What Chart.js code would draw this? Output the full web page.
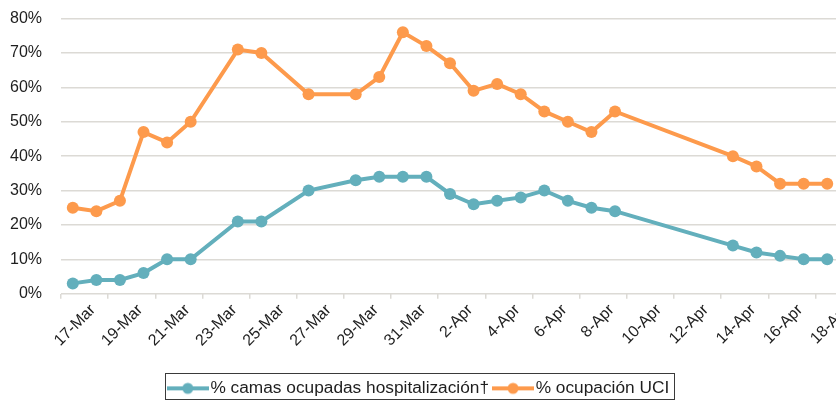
<!DOCTYPE html>
<html>
<head>
<meta charset="utf-8">
<script src="https://cdn.jsdelivr.net/npm/chart.js@4.4.1/dist/chart.umd.min.js"></script>
<style>
  html, body { margin: 0; padding: 0; background: #fff; }
  #wrap { width: 836px; height: 401px; overflow: hidden; }
  #box { width: 845px; height: 420px; margin-top: -10px; }
</style>
</head>
<body>
<div id="wrap"><div id="box"><canvas id="chart"></canvas></div></div>
<script>
const dates = [
  "2020-03-17", "2020-03-18", "2020-03-19", "2020-03-20", "2020-03-21", "2020-03-22",
  "2020-03-24", "2020-03-25", "2020-03-27", "2020-03-29", "2020-03-30", "2020-03-31",
  "2020-04-01", "2020-04-02", "2020-04-03", "2020-04-04", "2020-04-05", "2020-04-06",
  "2020-04-07", "2020-04-08", "2020-04-09", "2020-04-14", "2020-04-15", "2020-04-16",
  "2020-04-17", "2020-04-18",
];
const hospital = [3, 4, 4, 6, 10, 10, 21, 21, 30, 33, 34, 34, 34, 29, 26, 27, 28, 30, 27, 25, 24, 14, 12, 11, 10, 10];
const uci = [25, 24, 27, 47, 44, 50, 71, 70, 58, 58, 63, 76, 72, 67, 59, 61, 58, 53, 50, 47, 53, 40, 37, 32, 32, 32];
const tickLabels = [
  "17-Mar", "19-Mar", "21-Mar", "23-Mar", "25-Mar", "27-Mar", "29-Mar", "31-Mar",
  "2-Apr", "4-Apr", "6-Apr", "8-Apr", "10-Apr", "12-Apr", "14-Apr", "16-Apr", "18-Apr",
];
const seriesNames = ["% camas ocupadas hospitalización†", "% ocupación UCI"];
const colors = ["#63afbc", "#fd9a4c"];

const firstDay = Date.parse(dates[0]);
const dayOf = (d) => (Date.parse(d) - firstDay) / 86400000;
const points = (values) => values.map((v, i) => ({ x: dayOf(dates[i]), y: v }));

// line + marker icon for the legend
function legendIcon(color) {
  const c = document.createElement("canvas");
  c.width = 42; c.height = 14;
  const ctx = c.getContext("2d");
  ctx.strokeStyle = color; ctx.lineWidth = 4;
  ctx.beginPath(); ctx.moveTo(0, 7); ctx.lineTo(42, 7); ctx.stroke();
  ctx.fillStyle = color;
  ctx.beginPath(); ctx.arc(21, 7, 5.5, 0, Math.PI * 2); ctx.fill();
  return c;
}
const icons = colors.map(legendIcon);

const legendFrame = {
  id: "legendFrame",
  afterDraw(chart) {
    const boxes = chart.legend.legendHitBoxes;
    if (!boxes || !boxes.length) return;
    const first = boxes[0], last = boxes[boxes.length - 1];
    const cy = first.top + first.height / 2;
    const left = Math.round(first.left - 9) + 0.5;
    const right = Math.round(last.left + last.width + 5) + 0.5;
    const ctx = chart.ctx;
    ctx.save();
    ctx.strokeStyle = "#3a3a3a";
    ctx.lineWidth = 1;
    ctx.strokeRect(left, Math.round(cy - 15) + 0.5, right - left, 26);
    ctx.restore();
  },
};

Chart.defaults.font.family = "'Liberation Sans', Arial, sans-serif";
Chart.defaults.color = "#1e1e1e";

const ds = (i, values) => ({
  label: seriesNames[i],
  data: points(values),
  borderColor: colors[i],
  backgroundColor: colors[i],
  pointBackgroundColor: colors[i],
  pointBorderWidth: 0,
  pointRadius: 6,
  borderWidth: 4,
  tension: 0,
});

new Chart(document.getElementById("chart"), {
  type: "line",
  data: { datasets: [ds(0, hospital), ds(1, uci)] },
  plugins: [legendFrame],
  options: {
    responsive: true,
    maintainAspectRatio: false,
    animation: false,
    layout: { padding: { top: 0, bottom: 3, left: 0, right: 2 } },
    plugins: {
      tooltip: { enabled: false },
      legend: {
        position: "bottom",
        labels: {
          usePointStyle: true,
          pointStyleWidth: 28,
          padding: 10,
          font: { size: 17.3 },
          generateLabels(chart) {
            const items = Chart.defaults.plugins.legend.labels.generateLabels(chart);
            items.forEach((it, i) => { it.pointStyle = icons[i]; });
            return items;
          },
        },
      },
    },
    scales: {
      x: {
        type: "linear",
        min: -0.5,
        max: 32.5,
        afterBuildTicks(scale) {
          scale.ticks = tickLabels.map((_, i) => ({ value: -0.5 + 2 * i }));
        },
        afterFit(scale) { scale.height = 76; },
        border: { display: false },
        grid: { drawOnChartArea: false, drawTicks: true, tickLength: 5, color: "#dcdad5", lineWidth: 1.5 },
        ticks: {
          autoSkip: false,
          minRotation: 45,
          maxRotation: 45,
          labelOffset: 32,
          padding: 2,
          font: { size: 16 },
          callback: (v, i) => tickLabels[i],
        },
      },
      y: {
        min: 0,
        max: 80,
        afterFit(scale) { scale.width = 61; },
        border: { display: false },
        grid: { drawTicks: false, color: "#dcdad5", lineWidth: 1.5 },
        ticks: { stepSize: 10, padding: 19, font: { size: 16 }, callback: (v) => v + "%" },
      },
    },
  },
});
</script>
</body>
</html>
